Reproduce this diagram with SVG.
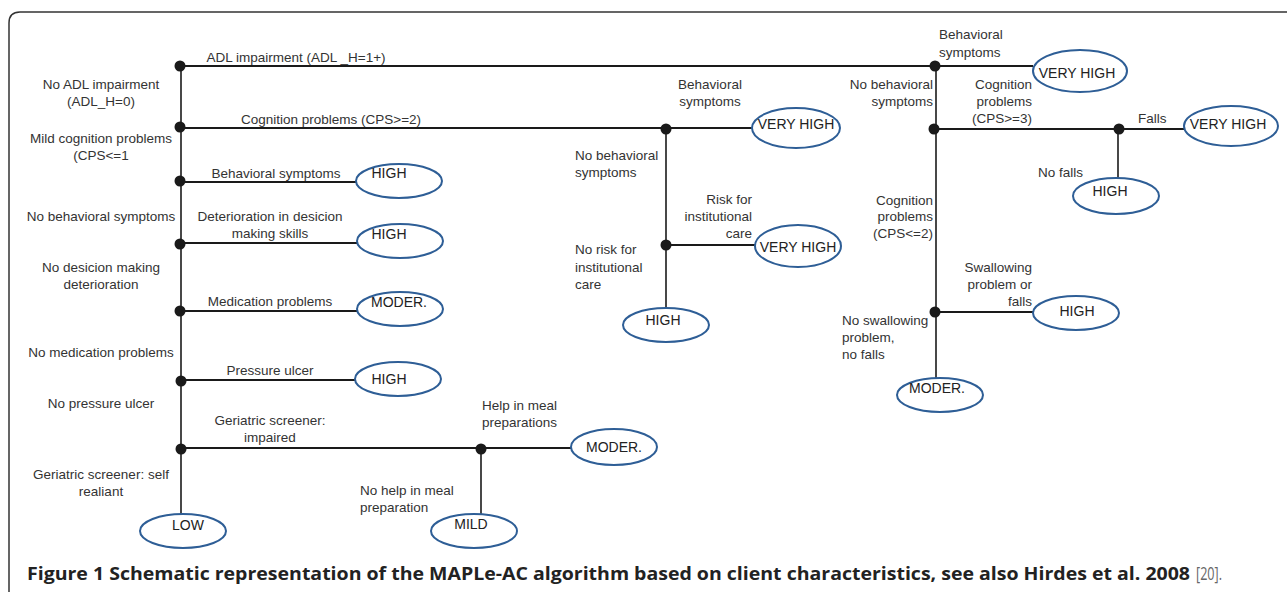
<svg xmlns="http://www.w3.org/2000/svg" width="1287" height="592" viewBox="0 0 1287 592">
<style>
.bg{fill:#ffffff}
.frame{fill:none;stroke:#333;stroke-width:1.5}
.h{stroke:#1a1a1a;stroke-width:2.2;fill:none}
.v{stroke:#1a1a1a;stroke-width:1.6;fill:none}
.dot{fill:#1a1a1a}
.out{fill:#ffffff;stroke:#2e5e96;stroke-width:2}
.ot{font-family:"Liberation Sans",Arial,sans-serif;font-size:14px;fill:#222;text-anchor:middle}
.lb{font-family:"Liberation Sans",Arial,sans-serif;font-size:13.5px;fill:#333}
.c{text-anchor:middle}
.e{text-anchor:end}
.cap{font-family:"Open Sans","Liberation Sans",sans-serif;font-weight:bold;font-size:18px;fill:#222}
.ref{font-family:"Open Sans","Liberation Sans",sans-serif;font-size:18px;fill:#666}
</style>
<rect class="bg" x="0" y="0" width="1287" height="592"/>
<path class="frame" d="M9 592 V23 Q9 12 20 12 H1287"/>

<g id="connectors">
  <line class="v" x1="181" y1="66" x2="181" y2="514"/>
  <line class="h" x1="181" y1="66" x2="1033" y2="66"/>
  <line class="h" x1="181" y1="128" x2="752" y2="128"/>
  <line class="h" x1="181" y1="182" x2="357" y2="182"/>
  <line class="h" x1="181" y1="243" x2="357" y2="243"/>
  <line class="h" x1="181" y1="311" x2="357" y2="311"/>
  <line class="h" x1="181" y1="380" x2="356" y2="380"/>
  <line class="h" x1="181" y1="448" x2="571" y2="448"/>
  <line class="v" x1="666" y1="128" x2="666" y2="308"/>
  <line class="h" x1="666" y1="245" x2="755" y2="245"/>
  <line class="v" x1="481" y1="448" x2="481" y2="514"/>
  <line class="v" x1="936" y1="66" x2="936" y2="378"/>
  <line class="h" x1="936" y1="129" x2="1184" y2="129"/>
  <line class="v" x1="1118" y1="129" x2="1118" y2="179"/>
  <line class="h" x1="936" y1="312" x2="1034" y2="312"/>
</g>

<g id="decisions">
  <circle id="d1" class="dot" cx="180" cy="66" r="5.5"/>
  <circle id="d2" class="dot" cx="180" cy="127" r="5.5"/>
  <circle id="d3" class="dot" cx="180" cy="181" r="5.5"/>
  <circle id="d4" class="dot" cx="180" cy="244" r="5.5"/>
  <circle id="d5" class="dot" cx="180" cy="311" r="5.5"/>
  <circle id="d6" class="dot" cx="181" cy="381" r="5.5"/>
  <circle id="d7" class="dot" cx="181" cy="449" r="5.5"/>
  <circle id="d8" class="dot" cx="666" cy="129" r="5.5"/>
  <circle id="d9" class="dot" cx="666" cy="245" r="5.5"/>
  <circle id="d10" class="dot" cx="481" cy="449" r="5.5"/>
  <circle id="d11" class="dot" cx="935" cy="66" r="5.5"/>
  <circle id="d12" class="dot" cx="934" cy="129" r="5.5"/>
  <circle id="d13" class="dot" cx="1119" cy="129" r="5.5"/>
  <circle id="d14" class="dot" cx="935" cy="312" r="5.5"/>
</g>

<g id="n-high1"><ellipse class="out" cx="399" cy="181" rx="43" ry="17"/><text class="ot" x="389" y="178">HIGH</text></g>
<g id="n-high2"><ellipse class="out" cx="400" cy="241" rx="43" ry="17"/><text class="ot" x="389" y="239">HIGH</text></g>
<g id="n-moder1"><ellipse class="out" cx="400" cy="309" rx="43" ry="17"/><text class="ot" x="399" y="307">MODER.</text></g>
<g id="n-high3"><ellipse class="out" cx="398" cy="379" rx="43" ry="17"/><text class="ot" x="389" y="384">HIGH</text></g>
<g id="n-low"><ellipse class="out" cx="183" cy="531" rx="43" ry="17"/><text class="ot" x="188" y="530">LOW</text></g>
<g id="n-moder2"><ellipse class="out" cx="614" cy="447" rx="43" ry="18"/><text class="ot" x="614" y="452">MODER.</text></g>
<g id="n-mild"><ellipse class="out" cx="474" cy="531" rx="43" ry="17"/><text class="ot" x="471" y="529">MILD</text></g>
<g id="n-vhigh1"><ellipse class="out" cx="796" cy="128" rx="44" ry="20"/><text class="ot" x="796" y="129">VERY HIGH</text></g>
<g id="n-vhigh2"><ellipse class="out" cx="798" cy="246" rx="43" ry="21"/><text class="ot" x="798" y="252">VERY HIGH</text></g>
<g id="n-high4"><ellipse class="out" cx="666" cy="325" rx="43" ry="17"/><text class="ot" x="663" y="325">HIGH</text></g>
<g id="n-vhigh3"><ellipse class="out" cx="1080" cy="71" rx="47" ry="21"/><text class="ot" x="1077" y="78">VERY HIGH</text></g>
<g id="n-vhigh4"><ellipse class="out" cx="1231" cy="126" rx="47" ry="20"/><text class="ot" x="1228" y="129">VERY HIGH</text></g>
<g id="n-high5"><ellipse class="out" cx="1116" cy="196" rx="43" ry="18"/><text class="ot" x="1110" y="196">HIGH</text></g>
<g id="n-high6"><ellipse class="out" cx="1076" cy="313" rx="43" ry="17"/><text class="ot" x="1077" y="316">HIGH</text></g>
<g id="n-moder3"><ellipse class="out" cx="940" cy="395" rx="43" ry="17"/><text class="ot" x="937" y="393">MODER.</text></g>

<g id="labels">
  <text class="lb c" x="101" y="89">No ADL impairment</text>
  <text class="lb c" x="101" y="106">(ADL_H=0)</text>
  <text class="lb c" x="101" y="143">Mild cognition problems</text>
  <text class="lb c" x="101" y="160">(CPS&lt;=1</text>
  <text class="lb c" x="101" y="221">No behavioral symptoms</text>
  <text class="lb c" x="101" y="272">No desicion making</text>
  <text class="lb c" x="101" y="289">deterioration</text>
  <text class="lb c" x="101" y="357">No medication problems</text>
  <text class="lb c" x="101" y="408">No pressure ulcer</text>
  <text class="lb c" x="101" y="479">Geriatric screener: self</text>
  <text class="lb c" x="101" y="496">realiant</text>

  <text class="lb c" x="296" y="62">ADL impairment (ADL _H=1+)</text>
  <text class="lb c" x="331" y="124">Cognition problems (CPS&gt;=2)</text>
  <text class="lb c" x="276" y="178">Behavioral symptoms</text>
  <text class="lb c" x="270" y="221">Deterioration in desicion</text>
  <text class="lb c" x="270" y="238">making skills</text>
  <text class="lb c" x="270" y="306">Medication problems</text>
  <text class="lb c" x="270" y="375">Pressure ulcer</text>
  <text class="lb c" x="270" y="425">Geriatric screener:</text>
  <text class="lb c" x="270" y="442">impaired</text>

  <text class="lb c" x="710" y="89">Behavioral</text>
  <text class="lb c" x="710" y="106">symptoms</text>
  <text class="lb" x="575" y="160">No behavioral</text>
  <text class="lb" x="575" y="177">symptoms</text>
  <text class="lb e" x="752" y="204">Risk for</text>
  <text class="lb e" x="752" y="221">institutional</text>
  <text class="lb e" x="752" y="238">care</text>
  <text class="lb" x="575" y="254">No risk for</text>
  <text class="lb" x="575" y="272">institutional</text>
  <text class="lb" x="575" y="289">care</text>
  <text class="lb" x="482" y="410">Help in meal</text>
  <text class="lb" x="482" y="427">preparations</text>
  <text class="lb" x="360" y="495">No help in meal</text>
  <text class="lb" x="360" y="512">preparation</text>

  <text class="lb" x="939" y="39">Behavioral</text>
  <text class="lb" x="939" y="57">symptoms</text>
  <text class="lb e" x="933" y="89">No behavioral</text>
  <text class="lb e" x="933" y="106">symptoms</text>
  <text class="lb e" x="1032" y="89">Cognition</text>
  <text class="lb e" x="1032" y="106">problems</text>
  <text class="lb e" x="1032" y="123">(CPS&gt;=3)</text>
  <text class="lb" x="1138" y="123">Falls</text>
  <text class="lb e" x="1083" y="177">No falls</text>
  <text class="lb e" x="933" y="205">Cognition</text>
  <text class="lb e" x="933" y="221">problems</text>
  <text class="lb e" x="933" y="238">(CPS&lt;=2)</text>
  <text class="lb e" x="1032" y="272">Swallowing</text>
  <text class="lb e" x="1032" y="289">problem or</text>
  <text class="lb e" x="1032" y="306">falls</text>
  <text class="lb" x="842" y="325">No swallowing</text>
  <text class="lb" x="842" y="342">problem,</text>
  <text class="lb" x="842" y="359">no falls</text>
</g>

<g id="caption">
  <text class="cap" x="27" y="580" textLength="1163" lengthAdjust="spacingAndGlyphs">Figure 1 Schematic representation of the MAPLe-AC algorithm based on client characteristics, see also Hirdes et al. 2008</text>
  <text class="ref" x="1196" y="580" textLength="26" lengthAdjust="spacingAndGlyphs">[20].</text>
</g>
</svg>
